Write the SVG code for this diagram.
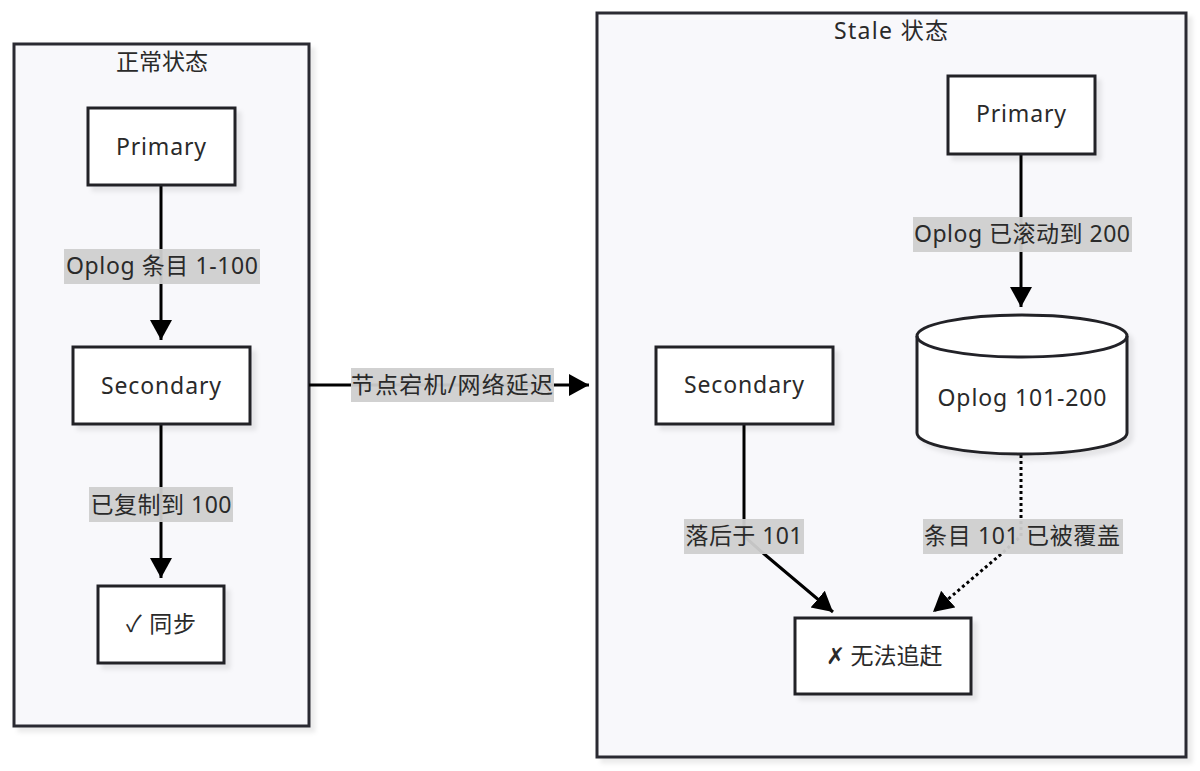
<svg xmlns="http://www.w3.org/2000/svg" width="1200" height="771" viewBox="0 0 1200 771">
<defs>
<style>
text{font-family:"Noto Sans","Noto Sans CJK SC",sans-serif;font-size:23px;fill:#2a2a2a;text-anchor:middle;dominant-baseline:central}
.cluster{fill:#f8f8fb;stroke:#2b2b33;stroke-width:3}
.node{fill:#ffffff;stroke:#222228;stroke-width:3}
.lbl{fill:#cfcfcf;opacity:0.95}
.edge{fill:none;stroke:#000;stroke-width:3}
.dot{stroke-dasharray:3 3}
</style>
<filter id="sh" x="-10%" y="-10%" width="130%" height="130%">
<feDropShadow dx="5" dy="5" stdDeviation="2" flood-color="#000" flood-opacity="0.08"/>
</filter>
<marker id="ah" markerUnits="userSpaceOnUse" markerWidth="24" markerHeight="24" refX="20" refY="11" orient="auto">
<path d="M0,0 L20,11 L0,22 z" fill="#000"/>
</marker>
</defs>
<rect width="1200" height="771" fill="#ffffff"/>

<g id="cluster-normal">
<rect class="cluster" x="14" y="44" width="295" height="682" filter="url(#sh)"/>
<text x="162" y="61" textLength="92">正常状态</text>
</g>
<g id="cluster-stale">
<rect class="cluster" x="597" y="13" width="589" height="744" filter="url(#sh)"/>
<text x="891" y="30" textLength="114">Stale 状态</text>
</g>

<g id="edges">
<line class="edge" x1="161" y1="185" x2="161" y2="340" marker-end="url(#ah)"/>
<line class="edge" x1="161" y1="424" x2="161" y2="578" marker-end="url(#ah)"/>
<line class="edge" x1="309" y1="385" x2="589" y2="385" marker-end="url(#ah)"/>
<line class="edge" x1="1021" y1="154" x2="1021" y2="307" marker-end="url(#ah)"/>
<polyline class="edge" points="744,424 744,536 763,553 833,612" marker-end="url(#ah)"/>
<polyline class="edge dot" points="1021,455 1021,536 1000,555 933,612" marker-end="url(#ah)"/>
<rect class="lbl" x="64" y="249" width="196" height="35"/>
<text x="162" y="265" textLength="192">Oplog 条目 1-100</text>
<rect class="lbl" x="89" y="487" width="144" height="35"/>
<text x="161" y="504" textLength="141">已复制到 100</text>
<rect class="lbl" x="351" y="368" width="203" height="34"/>
<text x="452" y="384" textLength="202">节点宕机/网络延迟</text>
<rect class="lbl" x="913" y="217" width="219" height="35"/>
<text x="1022" y="233" textLength="216">Oplog 已滚动到 200</text>
<rect class="lbl" x="684" y="519" width="120" height="35"/>
<text x="744" y="535" textLength="117">落后于 101</text>
<rect class="lbl" x="923" y="519" width="200" height="35"/>
<text x="1022" y="535" textLength="196">条目 101 已被覆盖</text>
</g>

<g id="node-primary-1">
<rect class="node" x="88" y="108" width="147" height="77" filter="url(#sh)"/>
<text x="161" y="146" textLength="90">Primary</text>
</g>
<g id="node-secondary-1">
<rect class="node" x="73" y="347" width="177" height="77" filter="url(#sh)"/>
<text x="161" y="385" textLength="120">Secondary</text>
</g>
<g id="node-sync">
<rect class="node" x="98" y="586" width="126" height="77" filter="url(#sh)"/>
<text x="161" y="623" textLength="70">✓ 同步</text>
</g>
<g id="node-primary-2">
<rect class="node" x="948" y="76" width="147" height="78" filter="url(#sh)"/>
<text x="1021" y="113" textLength="90">Primary</text>
</g>
<g id="node-oplog">
<path class="node" filter="url(#sh)" d="M917,336 A105,21 0 0 1 1127,336 L1127,433 A105,21 0 0 1 917,433 Z"/>
<path fill="none" stroke="#222228" stroke-width="3" d="M917,336 A105,21 0 0 0 1127,336"/>
<text x="1022" y="397" textLength="169">Oplog 101-200</text>
</g>
<g id="node-secondary-2">
<rect class="node" x="656" y="347" width="177" height="77" filter="url(#sh)"/>
<text x="744" y="384" textLength="120">Secondary</text>
</g>
<g id="node-fail">
<rect class="node" x="795" y="618" width="176" height="76" filter="url(#sh)"/>
<text x="884" y="655" textLength="117">✗ 无法追赶</text>
</g>
</svg>
